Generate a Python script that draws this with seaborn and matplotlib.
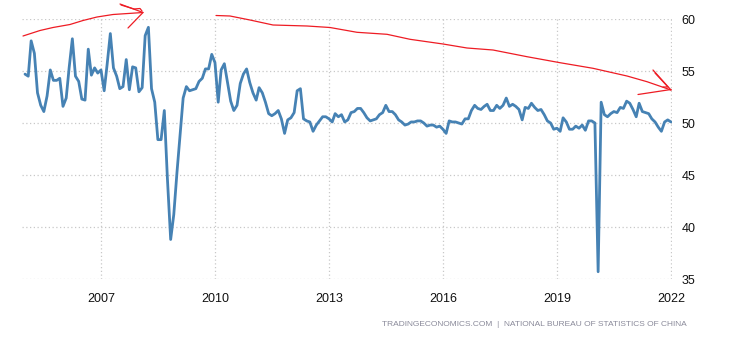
"""China manufacturing PMI (NBS), monthly, Jan 2005 - Jan 2022, with red hand-drawn trend arrows."""

import numpy as np
import pandas as pd
import matplotlib
matplotlib.use('Agg')
import matplotlib.pyplot as plt
import matplotlib.dates as mdates
import seaborn as sns

# monthly PMI values, one list per year
pmi_2005 = [54.7, 54.5, 57.9, 56.7, 52.9, 51.7, 51.1, 52.6, 55.1, 54.1, 54.1, 54.3]
pmi_2006 = [51.6, 52.4, 55.3, 58.1, 54.5, 54.0, 52.3, 52.2, 57.1, 54.6, 55.3, 54.8]
pmi_2007 = [55.1, 53.1, 55.6, 58.6, 55.3, 54.5, 53.3, 53.5, 56.1, 53.2, 55.4, 55.3]
pmi_2008 = [53.0, 53.4, 58.4, 59.2, 53.3, 52.0, 48.4, 48.4, 51.2, 44.6, 38.8, 41.2]
pmi_2009 = [45.3, 49.0, 52.4, 53.5, 53.1, 53.2, 53.3, 54.0, 54.3, 55.2, 55.2, 56.6]
pmi_2010 = [55.8, 52.0, 55.1, 55.7, 53.9, 52.1, 51.2, 51.7, 53.8, 54.7, 55.2, 53.9]
pmi_2011 = [52.9, 52.2, 53.4, 52.9, 52.0, 50.9, 50.7, 50.9, 51.2, 50.4, 49.0, 50.3]
pmi_2012 = [50.5, 51.0, 53.1, 53.3, 50.4, 50.2, 50.1, 49.2, 49.8, 50.2, 50.6, 50.6]
pmi_2013 = [50.4, 50.1, 50.9, 50.6, 50.8, 50.1, 50.3, 51.0, 51.1, 51.4, 51.4, 51.0]
pmi_2014 = [50.5, 50.2, 50.3, 50.4, 50.8, 51.0, 51.7, 51.1, 51.1, 50.8, 50.3, 50.1]
pmi_2015 = [49.8, 49.9, 50.1, 50.1, 50.2, 50.2, 50.0, 49.7, 49.8, 49.8, 49.6, 49.7]
pmi_2016 = [49.4, 49.0, 50.2, 50.1, 50.1, 50.0, 49.9, 50.4, 50.4, 51.2, 51.7, 51.4]
pmi_2017 = [51.3, 51.6, 51.8, 51.2, 51.2, 51.7, 51.4, 51.7, 52.4, 51.6, 51.8, 51.6]
pmi_2018 = [51.3, 50.3, 51.5, 51.4, 51.9, 51.5, 51.2, 51.3, 50.8, 50.2, 50.0, 49.4]
pmi_2019 = [49.5, 49.2, 50.5, 50.1, 49.4, 49.4, 49.7, 49.5, 49.8, 49.3, 50.2, 50.2]
pmi_2020 = [50.0, 35.7, 52.0, 50.8, 50.6, 50.9, 51.1, 51.0, 51.5, 51.4, 52.1, 51.9]
pmi_2021 = [51.3, 50.6, 51.9, 51.1, 51.0, 50.9, 50.4, 50.1, 49.6, 49.2, 50.1, 50.3]
pmi_2022 = [50.1]

x_tick_years = [2007, 2010, 2013, 2016, 2019, 2022]
y_ticks = [35, 40, 45, 50, 55, 60]
source_text = 'TRADINGECONOMICS.COM  |  NATIONAL BUREAU OF STATISTICS OF CHINA'

values = (pmi_2005 + pmi_2006 + pmi_2007 + pmi_2008 + pmi_2009 + pmi_2010 + pmi_2011
          + pmi_2012 + pmi_2013 + pmi_2014 + pmi_2015 + pmi_2016 + pmi_2017 + pmi_2018
          + pmi_2019 + pmi_2020 + pmi_2021 + pmi_2022)
df = pd.DataFrame({'date': pd.date_range('2005-01-01', periods=len(values), freq='MS'),
                   'pmi': values})

W, H = 730, 340
sns.set_theme(style='white')
plt.rcParams['font.family'] = ['Liberation Sans', 'DejaVu Sans']

fig = plt.figure(figsize=(W / 100, H / 100), dpi=100)
ax = fig.add_axes([22 / W, 1 - 279 / H, 650 / W, 260 / H])

sns.lineplot(data=df, x='date', y='pmi', ax=ax, color='#4682b4', linewidth=2.0)

ax.set_ylim(35, 60)
ax.set_xlim(pd.Timestamp('2004-12-03'), pd.Timestamp('2022-01-11'))
ax.set_yticks(y_ticks)
ax.set_xticks([pd.Timestamp(f'{y}-01-01') for y in x_tick_years])
ax.xaxis.set_major_formatter(mdates.DateFormatter('%Y'))
ax.yaxis.tick_right()
ax.set_xlabel('')
ax.set_ylabel('')

for s in ax.spines.values():
    s.set_visible(False)
ax.grid(True, color='#c8c8c8', linestyle=(0, (1, 2)), linewidth=0.9)
ax.tick_params(axis='x', length=6, width=0.8, color='#c8c8c8', pad=4,
               labelsize=9, labelcolor='#111111')
ax.tick_params(axis='y', length=0, pad=7, labelsize=9, labelcolor='#111111')

# red hand-drawn arrows, in figure pixel coordinates (origin top-left)
def draw_px(points, **kw):
    xs = [p[0] / W for p in points]
    ys = [1 - p[1] / H for p in points]
    fig.add_artist(plt.Line2D(xs, ys, transform=fig.transFigure, color='#ee1c24',
                              linewidth=0.9, clip_on=False, **kw))

draw_px([(23, 36), (40, 30.5), (53, 27.5), (70, 24.5), (83, 20.5), (97, 17),
         (113, 14.5), (128, 13.5), (143, 12.5)])
draw_px([(120, 4), (143, 12.5), (128, 28)])
draw_px([(121, 5), (134, 9), (140, 8.5), (142, 11)])

draw_px([(216, 15.5), (230, 16), (250, 20), (273, 25), (307, 26), (330, 27.5),
         (357, 32.3), (387, 34.3), (410, 39.3), (443, 44), (467, 48), (493, 50),
         (527, 56.7), (560, 62.7), (593, 68.3), (627, 76), (647, 81.7), (671, 90)])
draw_px([(653, 70), (671, 90)])
draw_px([(655, 73), (668, 87), (663, 87)])
draw_px([(638, 94.5), (671, 89.5)])

fig.text(687 / W, 1 - 325 / H, source_text, ha='right', va='center',
         fontsize=6.0, color='#8a8a9a')

fig.savefig('out.png', dpi=100)
